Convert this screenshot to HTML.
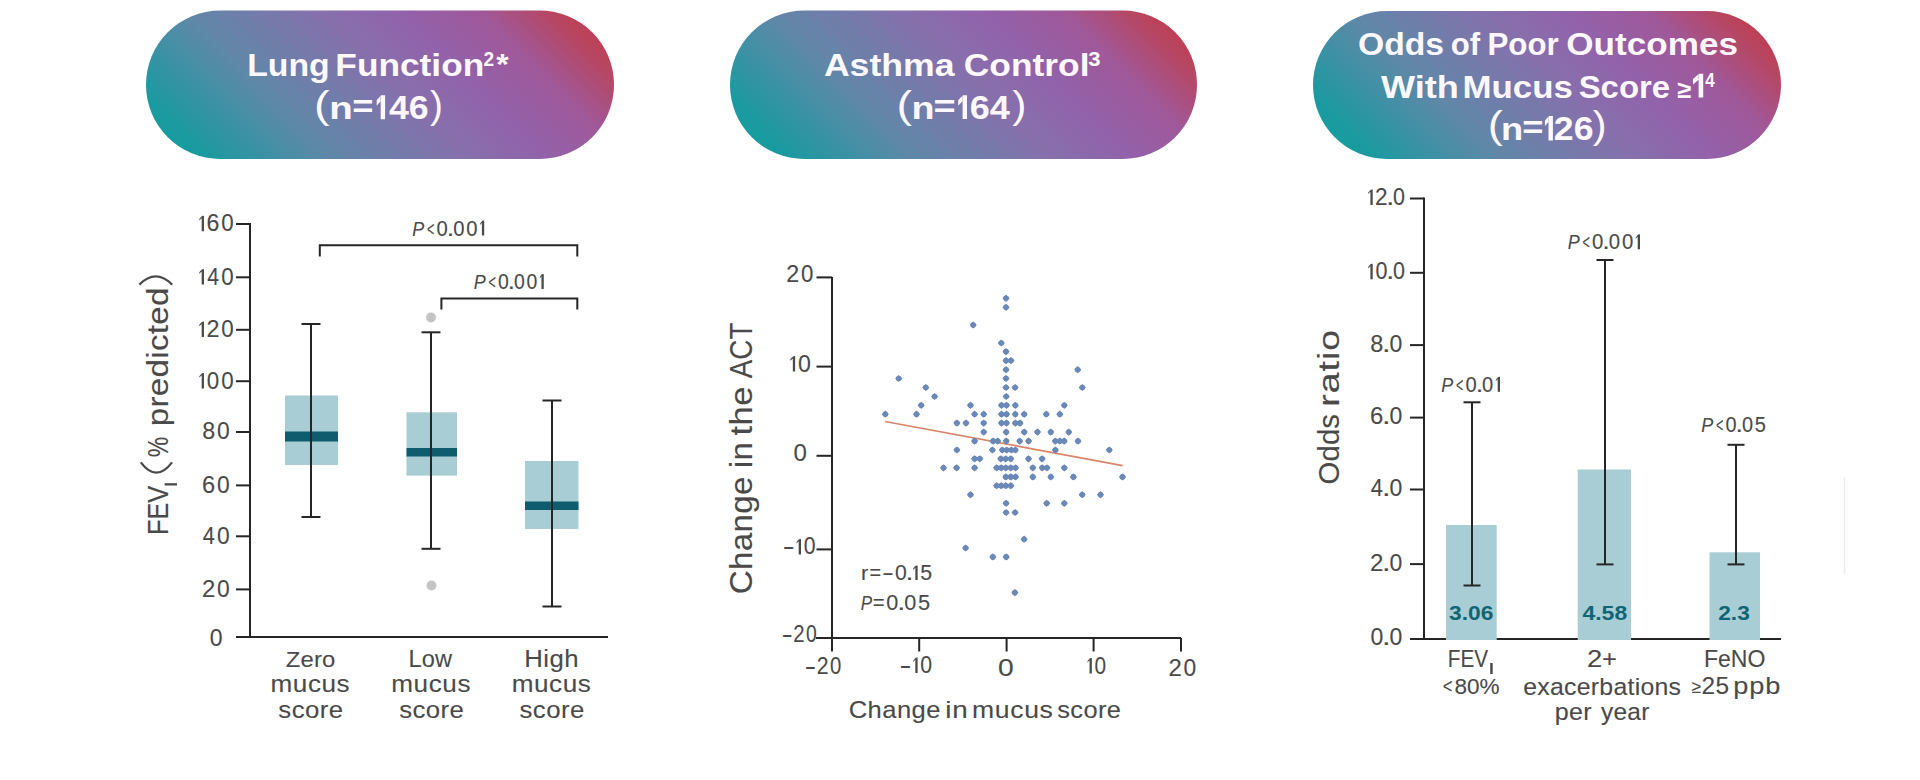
<!DOCTYPE html>
<html><head><meta charset="utf-8"><title>Mucus score outcomes</title>
<style>html,body{margin:0;padding:0;background:#fff;width:1920px;height:780px;overflow:hidden}
svg{display:block;font-family:"Liberation Sans", sans-serif}</style></head>
<body><svg width="1920" height="780" viewBox="0 0 1920 780">
<defs>
<linearGradient id="g1" gradientUnits="userSpaceOnUse" x1="225.9" y1="238.9" x2="534.1" y2="-69.4"><stop offset="0" stop-color="#0ea4a0"/><stop offset="0.1" stop-color="#1a9aa0"/><stop offset="0.3" stop-color="#5f88a8"/><stop offset="0.52" stop-color="#8670ac"/><stop offset="0.65" stop-color="#9262aa"/><stop offset="0.78" stop-color="#a0589a"/><stop offset="0.9" stop-color="#b8455e"/><stop offset="1" stop-color="#cc3346"/></linearGradient>
<linearGradient id="g2" gradientUnits="userSpaceOnUse" x1="809.6" y1="238.6" x2="1117.4" y2="-69.1"><stop offset="0" stop-color="#0ea4a0"/><stop offset="0.1" stop-color="#1a9aa0"/><stop offset="0.3" stop-color="#5f88a8"/><stop offset="0.52" stop-color="#8670ac"/><stop offset="0.65" stop-color="#9262aa"/><stop offset="0.78" stop-color="#a0589a"/><stop offset="0.9" stop-color="#b8455e"/><stop offset="1" stop-color="#cc3346"/></linearGradient>
<linearGradient id="g3" gradientUnits="userSpaceOnUse" x1="1393.0" y1="239.0" x2="1701.0" y2="-69.0"><stop offset="0" stop-color="#0ea4a0"/><stop offset="0.1" stop-color="#1a9aa0"/><stop offset="0.3" stop-color="#5f88a8"/><stop offset="0.52" stop-color="#8670ac"/><stop offset="0.65" stop-color="#9262aa"/><stop offset="0.78" stop-color="#a0589a"/><stop offset="0.9" stop-color="#b8455e"/><stop offset="1" stop-color="#cc3346"/></linearGradient>
</defs>
<rect x="146" y="10.5" width="468" height="148.5" rx="74.25" ry="74.25" fill="url(#g1)"/>
<rect x="730" y="10.5" width="467" height="148.5" rx="74.25" ry="74.25" fill="url(#g2)"/>
<rect x="1313" y="11" width="468" height="148" rx="74.0" ry="74.0" fill="url(#g3)"/>
<text x="247.24" y="75.8" font-size="32" font-weight="bold" fill="#fdf8fd" textLength="82.52" lengthAdjust="spacingAndGlyphs">Lung</text>
<text x="335.34" y="75.8" font-size="32" font-weight="bold" fill="#fdf8fd" textLength="148.95" lengthAdjust="spacingAndGlyphs">Function</text>
<text x="483.44" y="65.5" font-size="19.76" font-weight="bold" fill="#fdf8fd" textLength="10.63" lengthAdjust="spacingAndGlyphs">2</text>
<text x="496.31" y="74.09" font-size="30.37" font-weight="bold" fill="#fdf8fd" textLength="12.42" lengthAdjust="spacingAndGlyphs">*</text>
<text x="314.00" y="117.78" font-size="38.75" font-weight="normal" fill="#fdf8fd" textLength="15.57" lengthAdjust="spacingAndGlyphs">(</text>
<text x="329.36" y="119.3" font-size="32" font-weight="bold" fill="#fdf8fd" textLength="23.53" lengthAdjust="spacingAndGlyphs">n</text>
<text x="352.29" y="117" font-size="32" font-weight="bold" fill="#fdf8fd" textLength="21.19" lengthAdjust="spacingAndGlyphs">=</text>
<path d="M380.70 95.20 L385.10 95.20 L385.10 119.30 L380.70 119.30 Z M381.00 95.20 L376.70 100.15 L376.70 105.65 L381.00 100.70 Z" fill="#fdf8fd"/>
<text x="388.96" y="119.3" font-size="34" font-weight="bold" fill="#fdf8fd" textLength="39.73" lengthAdjust="spacingAndGlyphs">46</text>
<text x="430.07" y="117.78" font-size="38.75" font-weight="normal" fill="#fdf8fd" textLength="12.94" lengthAdjust="spacingAndGlyphs">)</text>
<text x="823.91" y="75.6" font-size="32" font-weight="bold" fill="#fdf8fd" textLength="130.56" lengthAdjust="spacingAndGlyphs">Asthma</text>
<text x="963.85" y="75.6" font-size="32" font-weight="bold" fill="#fdf8fd" textLength="125.65" lengthAdjust="spacingAndGlyphs">Control</text>
<text x="1088.19" y="65.77" font-size="20.16" font-weight="bold" fill="#fdf8fd" textLength="12.31" lengthAdjust="spacingAndGlyphs">3</text>
<text x="896.60" y="117.54" font-size="38.43" font-weight="normal" fill="#fdf8fd" textLength="15.58" lengthAdjust="spacingAndGlyphs">(</text>
<text x="911.62" y="118.9" font-size="32" font-weight="bold" fill="#fdf8fd" textLength="23.02" lengthAdjust="spacingAndGlyphs">n</text>
<text x="933.63" y="116.6" font-size="32" font-weight="bold" fill="#fdf8fd" textLength="22.13" lengthAdjust="spacingAndGlyphs">=</text>
<path d="M962.60 95.20 L967.00 95.20 L967.00 118.90 L962.60 118.90 Z M962.90 95.20 L958.20 100.15 L958.20 105.65 L962.90 100.70 Z" fill="#fdf8fd"/>
<text x="969.68" y="118.9" font-size="34" font-weight="bold" fill="#fdf8fd" textLength="40.11" lengthAdjust="spacingAndGlyphs">64</text>
<text x="1012.25" y="117.54" font-size="38.43" font-weight="normal" fill="#fdf8fd" textLength="14.19" lengthAdjust="spacingAndGlyphs">)</text>
<text x="1358.02" y="55" font-size="32" font-weight="bold" fill="#fdf8fd" textLength="86.06" lengthAdjust="spacingAndGlyphs">Odds</text>
<text x="1450.79" y="55" font-size="32" font-weight="bold" fill="#fdf8fd" textLength="29.35" lengthAdjust="spacingAndGlyphs">of</text>
<text x="1487.51" y="55" font-size="32" font-weight="bold" fill="#fdf8fd" textLength="71.27" lengthAdjust="spacingAndGlyphs">Poor</text>
<text x="1566.26" y="55" font-size="32" font-weight="bold" fill="#fdf8fd" textLength="171.68" lengthAdjust="spacingAndGlyphs">Outcomes</text>
<text x="1380.96" y="97.5" font-size="32" font-weight="bold" fill="#fdf8fd" textLength="77.87" lengthAdjust="spacingAndGlyphs">With</text>
<text x="1462.47" y="97.5" font-size="32" font-weight="bold" fill="#fdf8fd" textLength="110.36" lengthAdjust="spacingAndGlyphs">Mucus</text>
<text x="1578.65" y="97.5" font-size="32" font-weight="bold" fill="#fdf8fd" textLength="91.47" lengthAdjust="spacingAndGlyphs">Score</text>
<text x="1677.39" y="97.6" font-size="24.61" font-weight="bold" fill="#fdf8fd" textLength="14.02" lengthAdjust="spacingAndGlyphs">≥</text>
<path d="M1698.60 73.70 L1703.20 73.70 L1703.20 97.50 L1698.60 97.50 Z M1698.90 73.70 L1693.00 78.88 L1693.00 84.62 L1698.90 79.45 Z" fill="#fdf8fd"/>
<text x="1705.14" y="87.0" font-size="20.79" font-weight="bold" fill="#fdf8fd" textLength="9.45" lengthAdjust="spacingAndGlyphs">4</text>
<text x="1487.79" y="138.27" font-size="38.32" font-weight="normal" fill="#fdf8fd" textLength="15.07" lengthAdjust="spacingAndGlyphs">(</text>
<text x="1500.91" y="140.4" font-size="32" font-weight="bold" fill="#fdf8fd" textLength="22.14" lengthAdjust="spacingAndGlyphs">n</text>
<text x="1522.29" y="138.1" font-size="32" font-weight="bold" fill="#fdf8fd" textLength="21.19" lengthAdjust="spacingAndGlyphs">=</text>
<path d="M1548.50 115.90 L1552.90 115.90 L1552.90 140.40 L1548.50 140.40 Z M1548.80 115.90 L1544.90 120.85 L1544.90 126.35 L1548.80 121.40 Z" fill="#fdf8fd"/>
<text x="1553.86" y="140.4" font-size="34" font-weight="bold" fill="#fdf8fd" textLength="39.73" lengthAdjust="spacingAndGlyphs">26</text>
<text x="1592.76" y="138.27" font-size="38.32" font-weight="normal" fill="#fdf8fd" textLength="13.82" lengthAdjust="spacingAndGlyphs">)</text>
<line x1="250" y1="223" x2="250" y2="637" stroke="#262626" stroke-width="2"/>
<line x1="236" y1="637" x2="608" y2="637" stroke="#262626" stroke-width="2"/>
<line x1="236" y1="224" x2="250" y2="224" stroke="#262626" stroke-width="2"/>
<path d="M201.68 216.10 L203.98 215.80 L203.98 231.30 L201.68 231.30 Z M201.88 216.00 L199.30 219.00 L199.30 220.40 L201.68 218.10 Z" fill="#4a4a4a"/>
<text x="206.47" y="231.3" font-size="23" font-weight="normal" fill="#4a4a4a" stroke="#4a4a4a" stroke-width="0.1" textLength="12.89" lengthAdjust="spacingAndGlyphs">6</text>
<text x="221.13" y="231.3" font-size="23" font-weight="normal" fill="#4a4a4a" stroke="#4a4a4a" stroke-width="0.1" textLength="12.44" lengthAdjust="spacingAndGlyphs">0</text>
<line x1="236" y1="277.3" x2="250" y2="277.3" stroke="#262626" stroke-width="2"/>
<path d="M201.68 269.40 L203.98 269.10 L203.98 284.60 L201.68 284.60 Z M201.88 269.30 L199.30 272.30 L199.30 273.70 L201.68 271.40 Z" fill="#4a4a4a"/>
<text x="207.16" y="284.6" font-size="23" font-weight="normal" fill="#4a4a4a" stroke="#4a4a4a" stroke-width="0.1" textLength="11.80" lengthAdjust="spacingAndGlyphs">4</text>
<text x="221.13" y="284.6" font-size="23" font-weight="normal" fill="#4a4a4a" stroke="#4a4a4a" stroke-width="0.1" textLength="12.44" lengthAdjust="spacingAndGlyphs">0</text>
<line x1="236" y1="329.8" x2="250" y2="329.8" stroke="#262626" stroke-width="2"/>
<path d="M201.68 321.90 L203.98 321.60 L203.98 337.10 L201.68 337.10 Z M201.88 321.80 L199.30 324.80 L199.30 326.20 L201.68 323.90 Z" fill="#4a4a4a"/>
<text x="206.47" y="337.1" font-size="23" font-weight="normal" fill="#4a4a4a" stroke="#4a4a4a" stroke-width="0.1" textLength="13.05" lengthAdjust="spacingAndGlyphs">2</text>
<text x="221.13" y="337.1" font-size="23" font-weight="normal" fill="#4a4a4a" stroke="#4a4a4a" stroke-width="0.1" textLength="12.44" lengthAdjust="spacingAndGlyphs">0</text>
<line x1="236" y1="381.2" x2="250" y2="381.2" stroke="#262626" stroke-width="2"/>
<path d="M201.68 373.30 L203.98 373.00 L203.98 388.50 L201.68 388.50 Z M201.88 373.20 L199.30 376.20 L199.30 377.60 L201.68 375.30 Z" fill="#4a4a4a"/>
<text x="206.78" y="388.5" font-size="23" font-weight="normal" fill="#4a4a4a" stroke="#4a4a4a" stroke-width="0.1" textLength="12.44" lengthAdjust="spacingAndGlyphs">0</text>
<text x="221.13" y="388.5" font-size="23" font-weight="normal" fill="#4a4a4a" stroke="#4a4a4a" stroke-width="0.1" textLength="12.44" lengthAdjust="spacingAndGlyphs">0</text>
<line x1="236" y1="432" x2="250" y2="432" stroke="#262626" stroke-width="2"/>
<text x="202.19" y="439.3" font-size="23" font-weight="normal" fill="#4a4a4a" stroke="#4a4a4a" stroke-width="0.1" textLength="12.95" lengthAdjust="spacingAndGlyphs">8</text>
<text x="216.98" y="439.3" font-size="23" font-weight="normal" fill="#4a4a4a" stroke="#4a4a4a" stroke-width="0.1" textLength="12.71" lengthAdjust="spacingAndGlyphs">0</text>
<line x1="236" y1="485.4" x2="250" y2="485.4" stroke="#262626" stroke-width="2"/>
<text x="202.00" y="492.7" font-size="23" font-weight="normal" fill="#4a4a4a" stroke="#4a4a4a" stroke-width="0.1" textLength="13.17" lengthAdjust="spacingAndGlyphs">6</text>
<text x="216.98" y="492.7" font-size="23" font-weight="normal" fill="#4a4a4a" stroke="#4a4a4a" stroke-width="0.1" textLength="12.71" lengthAdjust="spacingAndGlyphs">0</text>
<line x1="236" y1="536.3" x2="250" y2="536.3" stroke="#262626" stroke-width="2"/>
<text x="202.70" y="543.5999999999999" font-size="23" font-weight="normal" fill="#4a4a4a" stroke="#4a4a4a" stroke-width="0.1" textLength="12.06" lengthAdjust="spacingAndGlyphs">4</text>
<text x="216.98" y="543.5999999999999" font-size="23" font-weight="normal" fill="#4a4a4a" stroke="#4a4a4a" stroke-width="0.1" textLength="12.71" lengthAdjust="spacingAndGlyphs">0</text>
<line x1="236" y1="589.4" x2="250" y2="589.4" stroke="#262626" stroke-width="2"/>
<text x="201.99" y="596.6999999999999" font-size="23" font-weight="normal" fill="#4a4a4a" stroke="#4a4a4a" stroke-width="0.1" textLength="13.34" lengthAdjust="spacingAndGlyphs">2</text>
<text x="216.98" y="596.6999999999999" font-size="23" font-weight="normal" fill="#4a4a4a" stroke="#4a4a4a" stroke-width="0.1" textLength="12.71" lengthAdjust="spacingAndGlyphs">0</text>
<text x="209.80" y="645.6" font-size="23" font-weight="normal" fill="#4a4a4a" stroke="#4a4a4a" stroke-width="0.1" textLength="12.80" lengthAdjust="spacingAndGlyphs">0</text>
<rect x="285" y="395.5" width="53" height="69.5" fill="#a9cdd4"/>
<rect x="285" y="431.5" width="53" height="10" fill="#0e5c6d"/>
<rect x="406.5" y="412.3" width="50.5" height="63.3" fill="#a9cdd4"/>
<rect x="406.5" y="448" width="50.5" height="8.5" fill="#0e5c6d"/>
<rect x="525" y="461" width="53.5" height="68" fill="#a9cdd4"/>
<rect x="525" y="501.5" width="53.5" height="8.5" fill="#0e5c6d"/>
<line x1="311" y1="324" x2="311" y2="517" stroke="#262626" stroke-width="2"/>
<line x1="301.5" y1="324" x2="320.5" y2="324" stroke="#262626" stroke-width="2"/>
<line x1="301.5" y1="517" x2="320.5" y2="517" stroke="#262626" stroke-width="2"/>
<line x1="431" y1="332.3" x2="431" y2="548.8" stroke="#262626" stroke-width="2"/>
<line x1="421.5" y1="332.3" x2="440.5" y2="332.3" stroke="#262626" stroke-width="2"/>
<line x1="421.5" y1="548.8" x2="440.5" y2="548.8" stroke="#262626" stroke-width="2"/>
<line x1="552" y1="400.5" x2="552" y2="606.5" stroke="#262626" stroke-width="2"/>
<line x1="542.5" y1="400.5" x2="561.5" y2="400.5" stroke="#262626" stroke-width="2"/>
<line x1="542.5" y1="606.5" x2="561.5" y2="606.5" stroke="#262626" stroke-width="2"/>
<circle cx="431" cy="317.5" r="5" fill="#c4c4c4"/>
<circle cx="431.5" cy="585.5" r="5" fill="#c4c4c4"/>
<path d="M319.8 256.5 V245.3 H577.3 V256.5" fill="none" stroke="#262626" stroke-width="2"/>
<path d="M441.4 309.5 V298.4 H577.3 V309.5" fill="none" stroke="#262626" stroke-width="2"/>
<text x="412.15" y="235.5" font-size="21" font-weight="normal" fill="#4a4a4a" font-style="italic" stroke="#4a4a4a" stroke-width="0.1" textLength="11.97" lengthAdjust="spacingAndGlyphs">P</text>
<text x="426.88" y="235.5" font-size="21" font-weight="normal" fill="#4a4a4a" stroke="#4a4a4a" stroke-width="0.1" textLength="7.33" lengthAdjust="spacingAndGlyphs">&lt;</text>
<text x="436.51" y="235.5" font-size="21.5" font-weight="normal" fill="#4a4a4a" stroke="#4a4a4a" stroke-width="0.1" textLength="11.26" lengthAdjust="spacingAndGlyphs">0</text>
<text x="446.71" y="235.5" font-size="21.5" font-weight="normal" fill="#4a4a4a" stroke="#4a4a4a" stroke-width="0.1" textLength="7.53" lengthAdjust="spacingAndGlyphs">.</text>
<text x="453.19" y="235.5" font-size="21.5" font-weight="normal" fill="#4a4a4a" stroke="#4a4a4a" stroke-width="0.1" textLength="11.26" lengthAdjust="spacingAndGlyphs">0</text>
<text x="466.18" y="235.5" font-size="21.5" font-weight="normal" fill="#4a4a4a" stroke="#4a4a4a" stroke-width="0.1" textLength="11.26" lengthAdjust="spacingAndGlyphs">0</text>
<path d="M481.90 220.80 L484.20 220.50 L484.20 235.50 L481.90 235.50 Z M482.10 220.70 L479.96 223.70 L479.96 225.10 L481.90 222.80 Z" fill="#4a4a4a"/>
<text x="473.65" y="289" font-size="21" font-weight="normal" fill="#4a4a4a" font-style="italic" stroke="#4a4a4a" stroke-width="0.1" textLength="11.97" lengthAdjust="spacingAndGlyphs">P</text>
<text x="488.38" y="289" font-size="21" font-weight="normal" fill="#4a4a4a" stroke="#4a4a4a" stroke-width="0.1" textLength="7.33" lengthAdjust="spacingAndGlyphs">&lt;</text>
<text x="498.04" y="289" font-size="21.5" font-weight="normal" fill="#4a4a4a" stroke="#4a4a4a" stroke-width="0.1" textLength="10.79" lengthAdjust="spacingAndGlyphs">0</text>
<text x="507.82" y="289" font-size="21.5" font-weight="normal" fill="#4a4a4a" stroke="#4a4a4a" stroke-width="0.1" textLength="7.22" lengthAdjust="spacingAndGlyphs">.</text>
<text x="514.03" y="289" font-size="21.5" font-weight="normal" fill="#4a4a4a" stroke="#4a4a4a" stroke-width="0.1" textLength="10.79" lengthAdjust="spacingAndGlyphs">0</text>
<text x="526.48" y="289" font-size="21.5" font-weight="normal" fill="#4a4a4a" stroke="#4a4a4a" stroke-width="0.1" textLength="10.79" lengthAdjust="spacingAndGlyphs">0</text>
<path d="M541.45 274.30 L543.75 274.00 L543.75 289.00 L541.45 289.00 Z M541.65 274.20 L539.69 277.20 L539.69 278.60 L541.45 276.30 Z" fill="#4a4a4a"/>
<text transform="scale(1.038675519383165,1)" x="275.20" y="667" font-size="23" font-weight="normal" fill="#4a4a4a" stroke="#4a4a4a" stroke-width="0.1" textLength="47.72" lengthAdjust="spacing">Zero</text>
<text transform="scale(1.1360118291936134,1)" x="238.13" y="692.3" font-size="23" font-weight="normal" fill="#4a4a4a" stroke="#4a4a4a" stroke-width="0.1" textLength="69.70" lengthAdjust="spacing">mucus</text>
<text transform="scale(1.121948112363571,1)" x="248.08" y="717.8" font-size="23" font-weight="normal" fill="#4a4a4a" stroke="#4a4a4a" stroke-width="0.1" textLength="57.73" lengthAdjust="spacing">score</text>
<text transform="scale(1.0245317074350975,1)" x="398.78" y="667" font-size="23" font-weight="normal" fill="#4a4a4a" stroke="#4a4a4a" stroke-width="0.1" textLength="42.43" lengthAdjust="spacing">Low</text>
<text transform="scale(1.1360118291936134,1)" x="344.46" y="692.3" font-size="23" font-weight="normal" fill="#4a4a4a" stroke="#4a4a4a" stroke-width="0.1" textLength="69.70" lengthAdjust="spacing">mucus</text>
<text transform="scale(1.121948112363571,1)" x="355.75" y="717.8" font-size="23" font-weight="normal" fill="#4a4a4a" stroke="#4a4a4a" stroke-width="0.1" textLength="57.73" lengthAdjust="spacing">score</text>
<text transform="scale(1.119804786944293,1)" x="468.24" y="667" font-size="23" font-weight="normal" fill="#4a4a4a" stroke="#4a4a4a" stroke-width="0.1" textLength="48.48" lengthAdjust="spacing">High</text>
<text transform="scale(1.1360118291936134,1)" x="450.45" y="692.3" font-size="23" font-weight="normal" fill="#4a4a4a" stroke="#4a4a4a" stroke-width="0.1" textLength="69.70" lengthAdjust="spacing">mucus</text>
<text transform="scale(1.1219481123635726,1)" x="463.06" y="717.8" font-size="23" font-weight="normal" fill="#4a4a4a" stroke="#4a4a4a" stroke-width="0.1" textLength="57.73" lengthAdjust="spacing">score</text>
<text transform="translate(167.8,533) rotate(-90)" x="-2.07" y="0" font-size="29" font-weight="normal" fill="#4a4a4a" stroke="#4a4a4a" stroke-width="0.1" textLength="49.19" lengthAdjust="spacingAndGlyphs">FEV</text>
<rect x="164.6" y="483.2" width="12.4" height="2.3" fill="#4a4a4a"/>
<path d="M140.8 462.3 Q156.4 483 172 462.3" fill="none" stroke="#4a4a4a" stroke-width="2.2"/>
<text transform="translate(167.8,456.5) rotate(-90)" x="-0.82" y="0" font-size="30" font-weight="normal" fill="#4a4a4a" stroke="#4a4a4a" stroke-width="0.1" textLength="20.44" lengthAdjust="spacingAndGlyphs">%</text>
<text transform="translate(167.8,424.2) rotate(-90) scale(1.100072703508557,1)" x="-1.93" y="0" font-size="30" font-weight="normal" fill="#4a4a4a" stroke="#4a4a4a" stroke-width="0.1" textLength="126.13" lengthAdjust="spacing">predicted</text>
<path d="M139.3 284.6 Q155.8 268.2 172.2 284.6" fill="none" stroke="#4a4a4a" stroke-width="2.2"/>
<line x1="832" y1="277" x2="832" y2="639" stroke="#262626" stroke-width="2"/>
<line x1="816" y1="638" x2="1181" y2="638" stroke="#262626" stroke-width="2"/>
<line x1="816.5" y1="277.4" x2="832" y2="277.4" stroke="#262626" stroke-width="2"/>
<text x="786.33" y="282.4" font-size="23" font-weight="normal" fill="#4a4a4a" stroke="#4a4a4a" stroke-width="0.1" textLength="12.97" lengthAdjust="spacingAndGlyphs">2</text>
<text x="800.90" y="282.4" font-size="23" font-weight="normal" fill="#4a4a4a" stroke="#4a4a4a" stroke-width="0.1" textLength="12.37" lengthAdjust="spacingAndGlyphs">0</text>
<line x1="816.5" y1="366.6" x2="832" y2="366.6" stroke="#262626" stroke-width="2"/>
<path d="M792.85 356.40 L795.15 356.10 L795.15 371.60 L792.85 371.60 Z M793.05 356.30 L790.30 359.30 L790.30 360.70 L792.85 358.40 Z" fill="#4a4a4a"/>
<text x="798.03" y="371.6" font-size="23" font-weight="normal" fill="#4a4a4a" stroke="#4a4a4a" stroke-width="0.1" textLength="12.87" lengthAdjust="spacingAndGlyphs">0</text>
<line x1="816.5" y1="455.8" x2="832" y2="455.8" stroke="#262626" stroke-width="2"/>
<text x="793.46" y="460.8" font-size="23" font-weight="normal" fill="#4a4a4a" stroke="#4a4a4a" stroke-width="0.1" textLength="13.38" lengthAdjust="spacingAndGlyphs">0</text>
<line x1="816.5" y1="549.4" x2="832" y2="549.4" stroke="#262626" stroke-width="2"/>
<text x="782.82" y="554.4" font-size="23" font-weight="normal" fill="#4a4a4a" stroke="#4a4a4a" stroke-width="0.1" textLength="11.84" lengthAdjust="spacingAndGlyphs">-</text>
<path d="M798.70 539.20 L801.00 538.90 L801.00 554.40 L798.70 554.40 Z M798.90 539.10 L796.56 542.10 L796.56 543.50 L798.70 541.20 Z" fill="#4a4a4a"/>
<text x="803.64" y="554.4" font-size="23" font-weight="normal" fill="#4a4a4a" stroke="#4a4a4a" stroke-width="0.1" textLength="11.79" lengthAdjust="spacingAndGlyphs">0</text>
<text x="781.76" y="642" font-size="23" font-weight="normal" fill="#4a4a4a" stroke="#4a4a4a" stroke-width="0.1" textLength="10.82" lengthAdjust="spacingAndGlyphs">-</text>
<text x="793.29" y="642" font-size="23" font-weight="normal" fill="#4a4a4a" stroke="#4a4a4a" stroke-width="0.1" textLength="11.30" lengthAdjust="spacingAndGlyphs">2</text>
<text x="805.99" y="642" font-size="23" font-weight="normal" fill="#4a4a4a" stroke="#4a4a4a" stroke-width="0.1" textLength="10.77" lengthAdjust="spacingAndGlyphs">0</text>
<line x1="832" y1="638" x2="832" y2="651.5" stroke="#262626" stroke-width="2"/>
<text x="804.74" y="674" font-size="23" font-weight="normal" fill="#4a4a4a" stroke="#4a4a4a" stroke-width="0.1" textLength="11.34" lengthAdjust="spacingAndGlyphs">-</text>
<text x="816.81" y="674" font-size="23" font-weight="normal" fill="#4a4a4a" stroke="#4a4a4a" stroke-width="0.1" textLength="11.84" lengthAdjust="spacingAndGlyphs">2</text>
<text x="830.11" y="674" font-size="23" font-weight="normal" fill="#4a4a4a" stroke="#4a4a4a" stroke-width="0.1" textLength="11.28" lengthAdjust="spacingAndGlyphs">0</text>
<line x1="919.2" y1="638" x2="919.2" y2="651.5" stroke="#262626" stroke-width="2"/>
<text x="899.42" y="673" font-size="23" font-weight="normal" fill="#4a4a4a" stroke="#4a4a4a" stroke-width="0.1" textLength="11.86" lengthAdjust="spacingAndGlyphs">-</text>
<path d="M915.32 657.80 L917.62 657.50 L917.62 673.00 L915.32 673.00 Z M915.52 657.70 L913.18 660.70 L913.18 662.10 L915.32 659.80 Z" fill="#4a4a4a"/>
<text x="920.27" y="673" font-size="23" font-weight="normal" fill="#4a4a4a" stroke="#4a4a4a" stroke-width="0.1" textLength="11.81" lengthAdjust="spacingAndGlyphs">0</text>
<line x1="1006.6" y1="638" x2="1006.6" y2="651.5" stroke="#262626" stroke-width="2"/>
<text x="997.90" y="676" font-size="23" font-weight="normal" fill="#4a4a4a" stroke="#4a4a4a" stroke-width="0.1" textLength="15.71" lengthAdjust="spacingAndGlyphs">0</text>
<line x1="1093.6" y1="638" x2="1093.6" y2="651.5" stroke="#262626" stroke-width="2"/>
<path d="M1089.55 658.30 L1091.85 658.00 L1091.85 673.50 L1089.55 673.50 Z M1089.75 658.20 L1087.50 661.20 L1087.50 662.60 L1089.55 660.30 Z" fill="#4a4a4a"/>
<text x="1094.45" y="673.5" font-size="23" font-weight="normal" fill="#4a4a4a" stroke="#4a4a4a" stroke-width="0.1" textLength="11.56" lengthAdjust="spacingAndGlyphs">0</text>
<line x1="1181" y1="638" x2="1181" y2="651.5" stroke="#262626" stroke-width="2"/>
<text x="1168.59" y="676" font-size="23" font-weight="normal" fill="#4a4a4a" stroke="#4a4a4a" stroke-width="0.1" textLength="13.34" lengthAdjust="spacingAndGlyphs">2</text>
<text x="1183.58" y="676" font-size="23" font-weight="normal" fill="#4a4a4a" stroke="#4a4a4a" stroke-width="0.1" textLength="12.71" lengthAdjust="spacingAndGlyphs">0</text>
<text transform="scale(1.1125074602690055,1)" x="762.87" y="718.3" font-size="23" font-weight="normal" fill="#4a4a4a" stroke="#4a4a4a" stroke-width="0.1" textLength="82.55" lengthAdjust="spacing">Change</text>
<text transform="scale(1.2114908708787575,1)" x="780.31" y="718.3" font-size="23" font-weight="normal" fill="#4a4a4a" stroke="#4a4a4a" stroke-width="0.1" textLength="18.55" lengthAdjust="spacing">in</text>
<text transform="scale(1.1562003196272024,1)" x="840.67" y="718.3" font-size="23" font-weight="normal" fill="#4a4a4a" stroke="#4a4a4a" stroke-width="0.1" textLength="69.95" lengthAdjust="spacing">mucus</text>
<text transform="scale(1.1058250134192158,1)" x="956.11" y="718.3" font-size="23" font-weight="normal" fill="#4a4a4a" stroke="#4a4a4a" stroke-width="0.1" textLength="57.55" lengthAdjust="spacing">score</text>
<text transform="translate(752,592.5) rotate(-90) scale(1.0671026905601597,1)" x="-1.57" y="0" font-size="31" font-weight="normal" fill="#4a4a4a" stroke="#4a4a4a" stroke-width="0.1" textLength="110.25" lengthAdjust="spacing">Change</text>
<text transform="translate(752,466) rotate(-90) scale(1.070215378618069,1)" x="-2.07" y="0" font-size="31" font-weight="normal" fill="#4a4a4a" stroke="#4a4a4a" stroke-width="0.1" textLength="24.46" lengthAdjust="spacing">in</text>
<text transform="translate(752,435) rotate(-90) scale(1.1115691032849955,1)" x="-0.47" y="0" font-size="31" font-weight="normal" fill="#4a4a4a" stroke="#4a4a4a" stroke-width="0.1" textLength="44.13" lengthAdjust="spacing">the</text>
<text transform="translate(752,378.2) rotate(-90) scale(0.8982814306790542,1)" x="-0.06" y="0" font-size="31" font-weight="normal" fill="#4a4a4a" stroke="#4a4a4a" stroke-width="0.1" textLength="62.00" lengthAdjust="spacing">ACT</text>
<text x="861.04" y="580" font-size="21" font-weight="normal" fill="#4a4a4a" stroke="#4a4a4a" stroke-width="0.1" textLength="7.33" lengthAdjust="spacingAndGlyphs">r</text>
<text x="869.53" y="580" font-size="22" font-weight="normal" fill="#4a4a4a" stroke="#4a4a4a" stroke-width="0.1" textLength="11.59" lengthAdjust="spacingAndGlyphs">=</text>
<text x="882.03" y="580" font-size="22" font-weight="normal" fill="#4a4a4a" stroke="#4a4a4a" stroke-width="0.1" textLength="11.84" lengthAdjust="spacingAndGlyphs">-</text>
<text x="894.94" y="580" font-size="22" font-weight="normal" fill="#4a4a4a" stroke="#4a4a4a" stroke-width="0.1" textLength="11.78" lengthAdjust="spacingAndGlyphs">0</text>
<text x="905.61" y="580" font-size="22" font-weight="normal" fill="#4a4a4a" stroke="#4a4a4a" stroke-width="0.1" textLength="7.88" lengthAdjust="spacingAndGlyphs">.</text>
<path d="M915.35 565.70 L917.65 565.40 L917.65 580.00 L915.35 580.00 Z M915.55 565.60 L913.22 568.60 L913.22 570.00 L915.35 567.70 Z" fill="#4a4a4a"/>
<text x="920.27" y="580" font-size="22" font-weight="normal" fill="#4a4a4a" stroke="#4a4a4a" stroke-width="0.1" textLength="11.88" lengthAdjust="spacingAndGlyphs">5</text>
<text x="860.73" y="610" font-size="20" font-weight="normal" fill="#4a4a4a" font-style="italic" stroke="#4a4a4a" stroke-width="0.1" textLength="11.38" lengthAdjust="spacingAndGlyphs">P</text>
<text x="872.76" y="610" font-size="22" font-weight="normal" fill="#4a4a4a" stroke="#4a4a4a" stroke-width="0.1" textLength="11.84" lengthAdjust="spacingAndGlyphs">=</text>
<text x="886.30" y="610" font-size="22" font-weight="normal" fill="#4a4a4a" stroke="#4a4a4a" stroke-width="0.1" textLength="12.03" lengthAdjust="spacingAndGlyphs">0</text>
<text x="897.21" y="610" font-size="22" font-weight="normal" fill="#4a4a4a" stroke="#4a4a4a" stroke-width="0.1" textLength="8.05" lengthAdjust="spacingAndGlyphs">.</text>
<text x="904.13" y="610" font-size="22" font-weight="normal" fill="#4a4a4a" stroke="#4a4a4a" stroke-width="0.1" textLength="12.03" lengthAdjust="spacingAndGlyphs">0</text>
<text x="917.99" y="610" font-size="22" font-weight="normal" fill="#4a4a4a" stroke="#4a4a4a" stroke-width="0.1" textLength="12.13" lengthAdjust="spacingAndGlyphs">5</text>
<line x1="885" y1="421.5" x2="1122.7" y2="465.6" stroke="#d9856a" stroke-width="1.7"/>
<path d="M1002.4 298.3l3.6 -3.6l3.6 3.6l-3.6 3.6zM1002.4 307.3l3.6 -3.6l3.6 3.6l-3.6 3.6zM969.6 325.0l3.6 -3.6l3.6 3.6l-3.6 3.6zM997.7 343.0l3.6 -3.6l3.6 3.6l-3.6 3.6zM1002.4 351.6l3.6 -3.6l3.6 3.6l-3.6 3.6zM1002.4 360.6l3.6 -3.6l3.6 3.6l-3.6 3.6zM1007.4 360.6l3.6 -3.6l3.6 3.6l-3.6 3.6zM1002.4 369.7l3.6 -3.6l3.6 3.6l-3.6 3.6zM1074.1 369.7l3.6 -3.6l3.6 3.6l-3.6 3.6zM895.1 378.5l3.6 -3.6l3.6 3.6l-3.6 3.6zM1002.4 378.5l3.6 -3.6l3.6 3.6l-3.6 3.6zM922.2 387.5l3.6 -3.6l3.6 3.6l-3.6 3.6zM1002.4 387.5l3.6 -3.6l3.6 3.6l-3.6 3.6zM1011.5 387.5l3.6 -3.6l3.6 3.6l-3.6 3.6zM1078.7 387.5l3.6 -3.6l3.6 3.6l-3.6 3.6zM931.0 396.5l3.6 -3.6l3.6 3.6l-3.6 3.6zM1002.6 396.5l3.6 -3.6l3.6 3.6l-3.6 3.6zM917.6 405.3l3.6 -3.6l3.6 3.6l-3.6 3.6zM966.9 405.3l3.6 -3.6l3.6 3.6l-3.6 3.6zM997.9 405.3l3.6 -3.6l3.6 3.6l-3.6 3.6zM1002.9 405.3l3.6 -3.6l3.6 3.6l-3.6 3.6zM1011.7 405.3l3.6 -3.6l3.6 3.6l-3.6 3.6zM1060.7 405.3l3.6 -3.6l3.6 3.6l-3.6 3.6zM881.7 414.2l3.6 -3.6l3.6 3.6l-3.6 3.6zM912.9 414.2l3.6 -3.6l3.6 3.6l-3.6 3.6zM971.0 414.2l3.6 -3.6l3.6 3.6l-3.6 3.6zM980.1 414.2l3.6 -3.6l3.6 3.6l-3.6 3.6zM997.9 414.2l3.6 -3.6l3.6 3.6l-3.6 3.6zM1002.9 414.2l3.6 -3.6l3.6 3.6l-3.6 3.6zM1011.7 414.2l3.6 -3.6l3.6 3.6l-3.6 3.6zM1020.6 414.2l3.6 -3.6l3.6 3.6l-3.6 3.6zM1042.7 414.2l3.6 -3.6l3.6 3.6l-3.6 3.6zM1056.2 414.2l3.6 -3.6l3.6 3.6l-3.6 3.6zM953.3 423.1l3.6 -3.6l3.6 3.6l-3.6 3.6zM962.4 423.1l3.6 -3.6l3.6 3.6l-3.6 3.6zM980.1 423.1l3.6 -3.6l3.6 3.6l-3.6 3.6zM997.9 423.1l3.6 -3.6l3.6 3.6l-3.6 3.6zM1002.9 423.1l3.6 -3.6l3.6 3.6l-3.6 3.6zM1011.7 423.1l3.6 -3.6l3.6 3.6l-3.6 3.6zM1016.4 423.1l3.6 -3.6l3.6 3.6l-3.6 3.6zM980.1 432.1l3.6 -3.6l3.6 3.6l-3.6 3.6zM1002.6 432.1l3.6 -3.6l3.6 3.6l-3.6 3.6zM1020.6 432.1l3.6 -3.6l3.6 3.6l-3.6 3.6zM1033.9 432.1l3.6 -3.6l3.6 3.6l-3.6 3.6zM1047.2 432.1l3.6 -3.6l3.6 3.6l-3.6 3.6zM1065.2 432.1l3.6 -3.6l3.6 3.6l-3.6 3.6zM971.0 441.1l3.6 -3.6l3.6 3.6l-3.6 3.6zM989.5 441.1l3.6 -3.6l3.6 3.6l-3.6 3.6zM994.1 441.1l3.6 -3.6l3.6 3.6l-3.6 3.6zM1002.6 441.1l3.6 -3.6l3.6 3.6l-3.6 3.6zM1016.1 441.1l3.6 -3.6l3.6 3.6l-3.6 3.6zM1025.0 441.1l3.6 -3.6l3.6 3.6l-3.6 3.6zM1051.7 441.1l3.6 -3.6l3.6 3.6l-3.6 3.6zM1056.2 441.1l3.6 -3.6l3.6 3.6l-3.6 3.6zM1060.6 441.1l3.6 -3.6l3.6 3.6l-3.6 3.6zM1074.4 441.1l3.6 -3.6l3.6 3.6l-3.6 3.6zM953.3 450.0l3.6 -3.6l3.6 3.6l-3.6 3.6zM988.8 450.0l3.6 -3.6l3.6 3.6l-3.6 3.6zM998.7 450.0l3.6 -3.6l3.6 3.6l-3.6 3.6zM1003.1 450.0l3.6 -3.6l3.6 3.6l-3.6 3.6zM1007.7 450.0l3.6 -3.6l3.6 3.6l-3.6 3.6zM1011.8 450.0l3.6 -3.6l3.6 3.6l-3.6 3.6zM1051.8 450.0l3.6 -3.6l3.6 3.6l-3.6 3.6zM1105.7 450.0l3.6 -3.6l3.6 3.6l-3.6 3.6zM971.0 458.8l3.6 -3.6l3.6 3.6l-3.6 3.6zM976.2 458.8l3.6 -3.6l3.6 3.6l-3.6 3.6zM997.2 458.8l3.6 -3.6l3.6 3.6l-3.6 3.6zM1002.0 458.8l3.6 -3.6l3.6 3.6l-3.6 3.6zM1007.2 458.8l3.6 -3.6l3.6 3.6l-3.6 3.6zM1024.9 458.8l3.6 -3.6l3.6 3.6l-3.6 3.6zM1038.5 458.8l3.6 -3.6l3.6 3.6l-3.6 3.6zM939.9 467.8l3.6 -3.6l3.6 3.6l-3.6 3.6zM953.0 467.8l3.6 -3.6l3.6 3.6l-3.6 3.6zM971.0 467.8l3.6 -3.6l3.6 3.6l-3.6 3.6zM993.0 467.8l3.6 -3.6l3.6 3.6l-3.6 3.6zM997.6 467.8l3.6 -3.6l3.6 3.6l-3.6 3.6zM1002.2 467.8l3.6 -3.6l3.6 3.6l-3.6 3.6zM1007.2 467.8l3.6 -3.6l3.6 3.6l-3.6 3.6zM1012.0 467.8l3.6 -3.6l3.6 3.6l-3.6 3.6zM1029.2 467.8l3.6 -3.6l3.6 3.6l-3.6 3.6zM1038.6 467.8l3.6 -3.6l3.6 3.6l-3.6 3.6zM1043.4 467.8l3.6 -3.6l3.6 3.6l-3.6 3.6zM1060.7 467.8l3.6 -3.6l3.6 3.6l-3.6 3.6zM1002.2 476.9l3.6 -3.6l3.6 3.6l-3.6 3.6zM1007.2 476.9l3.6 -3.6l3.6 3.6l-3.6 3.6zM1012.0 476.9l3.6 -3.6l3.6 3.6l-3.6 3.6zM1029.2 476.9l3.6 -3.6l3.6 3.6l-3.6 3.6zM1047.2 476.9l3.6 -3.6l3.6 3.6l-3.6 3.6zM1069.8 476.9l3.6 -3.6l3.6 3.6l-3.6 3.6zM1118.9 476.9l3.6 -3.6l3.6 3.6l-3.6 3.6zM993.0 485.7l3.6 -3.6l3.6 3.6l-3.6 3.6zM997.6 485.7l3.6 -3.6l3.6 3.6l-3.6 3.6zM1002.2 485.7l3.6 -3.6l3.6 3.6l-3.6 3.6zM1007.2 485.7l3.6 -3.6l3.6 3.6l-3.6 3.6zM966.9 494.7l3.6 -3.6l3.6 3.6l-3.6 3.6zM1078.6 494.7l3.6 -3.6l3.6 3.6l-3.6 3.6zM1096.9 494.7l3.6 -3.6l3.6 3.6l-3.6 3.6zM1002.5 503.3l3.6 -3.6l3.6 3.6l-3.6 3.6zM1043.1 503.3l3.6 -3.6l3.6 3.6l-3.6 3.6zM1060.7 503.3l3.6 -3.6l3.6 3.6l-3.6 3.6zM1002.5 512.5l3.6 -3.6l3.6 3.6l-3.6 3.6zM1011.5 512.5l3.6 -3.6l3.6 3.6l-3.6 3.6zM1020.5 539.2l3.6 -3.6l3.6 3.6l-3.6 3.6zM962.0 548.0l3.6 -3.6l3.6 3.6l-3.6 3.6zM989.2 556.9l3.6 -3.6l3.6 3.6l-3.6 3.6zM1002.6 556.9l3.6 -3.6l3.6 3.6l-3.6 3.6zM1011.3 592.6l3.6 -3.6l3.6 3.6l-3.6 3.6z" fill="#6a88b8"/>
<path d="M1003.2 298.3a2.8 2.8 0 1 0 5.6 0a2.8 2.8 0 1 0 -5.6 0zM1003.2 307.3a2.8 2.8 0 1 0 5.6 0a2.8 2.8 0 1 0 -5.6 0zM970.4 325.0a2.8 2.8 0 1 0 5.6 0a2.8 2.8 0 1 0 -5.6 0zM998.5 343.0a2.8 2.8 0 1 0 5.6 0a2.8 2.8 0 1 0 -5.6 0zM1003.2 351.6a2.8 2.8 0 1 0 5.6 0a2.8 2.8 0 1 0 -5.6 0zM1003.2 360.6a2.8 2.8 0 1 0 5.6 0a2.8 2.8 0 1 0 -5.6 0zM1008.2 360.6a2.8 2.8 0 1 0 5.6 0a2.8 2.8 0 1 0 -5.6 0zM1003.2 369.7a2.8 2.8 0 1 0 5.6 0a2.8 2.8 0 1 0 -5.6 0zM1074.9 369.7a2.8 2.8 0 1 0 5.6 0a2.8 2.8 0 1 0 -5.6 0zM895.9 378.5a2.8 2.8 0 1 0 5.6 0a2.8 2.8 0 1 0 -5.6 0zM1003.2 378.5a2.8 2.8 0 1 0 5.6 0a2.8 2.8 0 1 0 -5.6 0zM923.0 387.5a2.8 2.8 0 1 0 5.6 0a2.8 2.8 0 1 0 -5.6 0zM1003.2 387.5a2.8 2.8 0 1 0 5.6 0a2.8 2.8 0 1 0 -5.6 0zM1012.3 387.5a2.8 2.8 0 1 0 5.6 0a2.8 2.8 0 1 0 -5.6 0zM1079.5 387.5a2.8 2.8 0 1 0 5.6 0a2.8 2.8 0 1 0 -5.6 0zM931.8 396.5a2.8 2.8 0 1 0 5.6 0a2.8 2.8 0 1 0 -5.6 0zM1003.4 396.5a2.8 2.8 0 1 0 5.6 0a2.8 2.8 0 1 0 -5.6 0zM918.4 405.3a2.8 2.8 0 1 0 5.6 0a2.8 2.8 0 1 0 -5.6 0zM967.7 405.3a2.8 2.8 0 1 0 5.6 0a2.8 2.8 0 1 0 -5.6 0zM998.7 405.3a2.8 2.8 0 1 0 5.6 0a2.8 2.8 0 1 0 -5.6 0zM1003.7 405.3a2.8 2.8 0 1 0 5.6 0a2.8 2.8 0 1 0 -5.6 0zM1012.5 405.3a2.8 2.8 0 1 0 5.6 0a2.8 2.8 0 1 0 -5.6 0zM1061.5 405.3a2.8 2.8 0 1 0 5.6 0a2.8 2.8 0 1 0 -5.6 0zM882.5 414.2a2.8 2.8 0 1 0 5.6 0a2.8 2.8 0 1 0 -5.6 0zM913.7 414.2a2.8 2.8 0 1 0 5.6 0a2.8 2.8 0 1 0 -5.6 0zM971.8 414.2a2.8 2.8 0 1 0 5.6 0a2.8 2.8 0 1 0 -5.6 0zM980.9 414.2a2.8 2.8 0 1 0 5.6 0a2.8 2.8 0 1 0 -5.6 0zM998.7 414.2a2.8 2.8 0 1 0 5.6 0a2.8 2.8 0 1 0 -5.6 0zM1003.7 414.2a2.8 2.8 0 1 0 5.6 0a2.8 2.8 0 1 0 -5.6 0zM1012.5 414.2a2.8 2.8 0 1 0 5.6 0a2.8 2.8 0 1 0 -5.6 0zM1021.4 414.2a2.8 2.8 0 1 0 5.6 0a2.8 2.8 0 1 0 -5.6 0zM1043.5 414.2a2.8 2.8 0 1 0 5.6 0a2.8 2.8 0 1 0 -5.6 0zM1057.0 414.2a2.8 2.8 0 1 0 5.6 0a2.8 2.8 0 1 0 -5.6 0zM954.1 423.1a2.8 2.8 0 1 0 5.6 0a2.8 2.8 0 1 0 -5.6 0zM963.2 423.1a2.8 2.8 0 1 0 5.6 0a2.8 2.8 0 1 0 -5.6 0zM980.9 423.1a2.8 2.8 0 1 0 5.6 0a2.8 2.8 0 1 0 -5.6 0zM998.7 423.1a2.8 2.8 0 1 0 5.6 0a2.8 2.8 0 1 0 -5.6 0zM1003.7 423.1a2.8 2.8 0 1 0 5.6 0a2.8 2.8 0 1 0 -5.6 0zM1012.5 423.1a2.8 2.8 0 1 0 5.6 0a2.8 2.8 0 1 0 -5.6 0zM1017.2 423.1a2.8 2.8 0 1 0 5.6 0a2.8 2.8 0 1 0 -5.6 0zM980.9 432.1a2.8 2.8 0 1 0 5.6 0a2.8 2.8 0 1 0 -5.6 0zM1003.4 432.1a2.8 2.8 0 1 0 5.6 0a2.8 2.8 0 1 0 -5.6 0zM1021.4 432.1a2.8 2.8 0 1 0 5.6 0a2.8 2.8 0 1 0 -5.6 0zM1034.7 432.1a2.8 2.8 0 1 0 5.6 0a2.8 2.8 0 1 0 -5.6 0zM1048.0 432.1a2.8 2.8 0 1 0 5.6 0a2.8 2.8 0 1 0 -5.6 0zM1066.0 432.1a2.8 2.8 0 1 0 5.6 0a2.8 2.8 0 1 0 -5.6 0zM971.8 441.1a2.8 2.8 0 1 0 5.6 0a2.8 2.8 0 1 0 -5.6 0zM990.3 441.1a2.8 2.8 0 1 0 5.6 0a2.8 2.8 0 1 0 -5.6 0zM994.9 441.1a2.8 2.8 0 1 0 5.6 0a2.8 2.8 0 1 0 -5.6 0zM1003.4 441.1a2.8 2.8 0 1 0 5.6 0a2.8 2.8 0 1 0 -5.6 0zM1016.9 441.1a2.8 2.8 0 1 0 5.6 0a2.8 2.8 0 1 0 -5.6 0zM1025.8 441.1a2.8 2.8 0 1 0 5.6 0a2.8 2.8 0 1 0 -5.6 0zM1052.5 441.1a2.8 2.8 0 1 0 5.6 0a2.8 2.8 0 1 0 -5.6 0zM1057.0 441.1a2.8 2.8 0 1 0 5.6 0a2.8 2.8 0 1 0 -5.6 0zM1061.4 441.1a2.8 2.8 0 1 0 5.6 0a2.8 2.8 0 1 0 -5.6 0zM1075.2 441.1a2.8 2.8 0 1 0 5.6 0a2.8 2.8 0 1 0 -5.6 0zM954.1 450.0a2.8 2.8 0 1 0 5.6 0a2.8 2.8 0 1 0 -5.6 0zM989.6 450.0a2.8 2.8 0 1 0 5.6 0a2.8 2.8 0 1 0 -5.6 0zM999.5 450.0a2.8 2.8 0 1 0 5.6 0a2.8 2.8 0 1 0 -5.6 0zM1003.9 450.0a2.8 2.8 0 1 0 5.6 0a2.8 2.8 0 1 0 -5.6 0zM1008.5 450.0a2.8 2.8 0 1 0 5.6 0a2.8 2.8 0 1 0 -5.6 0zM1012.6 450.0a2.8 2.8 0 1 0 5.6 0a2.8 2.8 0 1 0 -5.6 0zM1052.6 450.0a2.8 2.8 0 1 0 5.6 0a2.8 2.8 0 1 0 -5.6 0zM1106.5 450.0a2.8 2.8 0 1 0 5.6 0a2.8 2.8 0 1 0 -5.6 0zM971.8 458.8a2.8 2.8 0 1 0 5.6 0a2.8 2.8 0 1 0 -5.6 0zM977.0 458.8a2.8 2.8 0 1 0 5.6 0a2.8 2.8 0 1 0 -5.6 0zM998.0 458.8a2.8 2.8 0 1 0 5.6 0a2.8 2.8 0 1 0 -5.6 0zM1002.8 458.8a2.8 2.8 0 1 0 5.6 0a2.8 2.8 0 1 0 -5.6 0zM1008.0 458.8a2.8 2.8 0 1 0 5.6 0a2.8 2.8 0 1 0 -5.6 0zM1025.7 458.8a2.8 2.8 0 1 0 5.6 0a2.8 2.8 0 1 0 -5.6 0zM1039.3 458.8a2.8 2.8 0 1 0 5.6 0a2.8 2.8 0 1 0 -5.6 0zM940.7 467.8a2.8 2.8 0 1 0 5.6 0a2.8 2.8 0 1 0 -5.6 0zM953.8 467.8a2.8 2.8 0 1 0 5.6 0a2.8 2.8 0 1 0 -5.6 0zM971.8 467.8a2.8 2.8 0 1 0 5.6 0a2.8 2.8 0 1 0 -5.6 0zM993.8 467.8a2.8 2.8 0 1 0 5.6 0a2.8 2.8 0 1 0 -5.6 0zM998.4 467.8a2.8 2.8 0 1 0 5.6 0a2.8 2.8 0 1 0 -5.6 0zM1003.0 467.8a2.8 2.8 0 1 0 5.6 0a2.8 2.8 0 1 0 -5.6 0zM1008.0 467.8a2.8 2.8 0 1 0 5.6 0a2.8 2.8 0 1 0 -5.6 0zM1012.8 467.8a2.8 2.8 0 1 0 5.6 0a2.8 2.8 0 1 0 -5.6 0zM1030.0 467.8a2.8 2.8 0 1 0 5.6 0a2.8 2.8 0 1 0 -5.6 0zM1039.4 467.8a2.8 2.8 0 1 0 5.6 0a2.8 2.8 0 1 0 -5.6 0zM1044.2 467.8a2.8 2.8 0 1 0 5.6 0a2.8 2.8 0 1 0 -5.6 0zM1061.5 467.8a2.8 2.8 0 1 0 5.6 0a2.8 2.8 0 1 0 -5.6 0zM1003.0 476.9a2.8 2.8 0 1 0 5.6 0a2.8 2.8 0 1 0 -5.6 0zM1008.0 476.9a2.8 2.8 0 1 0 5.6 0a2.8 2.8 0 1 0 -5.6 0zM1012.8 476.9a2.8 2.8 0 1 0 5.6 0a2.8 2.8 0 1 0 -5.6 0zM1030.0 476.9a2.8 2.8 0 1 0 5.6 0a2.8 2.8 0 1 0 -5.6 0zM1048.0 476.9a2.8 2.8 0 1 0 5.6 0a2.8 2.8 0 1 0 -5.6 0zM1070.6 476.9a2.8 2.8 0 1 0 5.6 0a2.8 2.8 0 1 0 -5.6 0zM1119.7 476.9a2.8 2.8 0 1 0 5.6 0a2.8 2.8 0 1 0 -5.6 0zM993.8 485.7a2.8 2.8 0 1 0 5.6 0a2.8 2.8 0 1 0 -5.6 0zM998.4 485.7a2.8 2.8 0 1 0 5.6 0a2.8 2.8 0 1 0 -5.6 0zM1003.0 485.7a2.8 2.8 0 1 0 5.6 0a2.8 2.8 0 1 0 -5.6 0zM1008.0 485.7a2.8 2.8 0 1 0 5.6 0a2.8 2.8 0 1 0 -5.6 0zM967.7 494.7a2.8 2.8 0 1 0 5.6 0a2.8 2.8 0 1 0 -5.6 0zM1079.4 494.7a2.8 2.8 0 1 0 5.6 0a2.8 2.8 0 1 0 -5.6 0zM1097.7 494.7a2.8 2.8 0 1 0 5.6 0a2.8 2.8 0 1 0 -5.6 0zM1003.3 503.3a2.8 2.8 0 1 0 5.6 0a2.8 2.8 0 1 0 -5.6 0zM1043.9 503.3a2.8 2.8 0 1 0 5.6 0a2.8 2.8 0 1 0 -5.6 0zM1061.5 503.3a2.8 2.8 0 1 0 5.6 0a2.8 2.8 0 1 0 -5.6 0zM1003.3 512.5a2.8 2.8 0 1 0 5.6 0a2.8 2.8 0 1 0 -5.6 0zM1012.3 512.5a2.8 2.8 0 1 0 5.6 0a2.8 2.8 0 1 0 -5.6 0zM1021.3 539.2a2.8 2.8 0 1 0 5.6 0a2.8 2.8 0 1 0 -5.6 0zM962.8 548.0a2.8 2.8 0 1 0 5.6 0a2.8 2.8 0 1 0 -5.6 0zM990.0 556.9a2.8 2.8 0 1 0 5.6 0a2.8 2.8 0 1 0 -5.6 0zM1003.4 556.9a2.8 2.8 0 1 0 5.6 0a2.8 2.8 0 1 0 -5.6 0zM1012.1 592.6a2.8 2.8 0 1 0 5.6 0a2.8 2.8 0 1 0 -5.6 0z" fill="#6a88b8"/>
<line x1="1424" y1="197.5" x2="1424" y2="640" stroke="#262626" stroke-width="2"/>
<line x1="1410" y1="639" x2="1781" y2="639" stroke="#262626" stroke-width="2"/>
<line x1="1410" y1="198.5" x2="1424" y2="198.5" stroke="#262626" stroke-width="2"/>
<path d="M1370.40 189.80 L1372.70 189.50 L1372.70 205.00 L1370.40 205.00 Z M1370.60 189.70 L1368.20 192.70 L1368.20 194.10 L1370.40 191.80 Z" fill="#4a4a4a"/>
<text x="1375.09" y="205.0" font-size="23" font-weight="normal" fill="#4a4a4a" stroke="#4a4a4a" stroke-width="0.1" textLength="12.54" lengthAdjust="spacingAndGlyphs">2</text>
<text x="1386.21" y="205.0" font-size="23" font-weight="normal" fill="#4a4a4a" stroke="#4a4a4a" stroke-width="0.1" textLength="7.99" lengthAdjust="spacingAndGlyphs">.</text>
<text x="1393.09" y="205.0" font-size="23" font-weight="normal" fill="#4a4a4a" stroke="#4a4a4a" stroke-width="0.1" textLength="11.95" lengthAdjust="spacingAndGlyphs">0</text>
<line x1="1410" y1="272.8" x2="1424" y2="272.8" stroke="#262626" stroke-width="2"/>
<path d="M1370.40 264.10 L1372.70 263.80 L1372.70 279.30 L1370.40 279.30 Z M1370.60 264.00 L1368.20 267.00 L1368.20 268.40 L1370.40 266.10 Z" fill="#4a4a4a"/>
<text x="1375.38" y="279.3" font-size="23" font-weight="normal" fill="#4a4a4a" stroke="#4a4a4a" stroke-width="0.1" textLength="11.95" lengthAdjust="spacingAndGlyphs">0</text>
<text x="1386.21" y="279.3" font-size="23" font-weight="normal" fill="#4a4a4a" stroke="#4a4a4a" stroke-width="0.1" textLength="7.99" lengthAdjust="spacingAndGlyphs">.</text>
<text x="1393.09" y="279.3" font-size="23" font-weight="normal" fill="#4a4a4a" stroke="#4a4a4a" stroke-width="0.1" textLength="11.95" lengthAdjust="spacingAndGlyphs">0</text>
<line x1="1410" y1="345.1" x2="1424" y2="345.1" stroke="#262626" stroke-width="2"/>
<text x="1370.28" y="351.6" font-size="23" font-weight="normal" fill="#4a4a4a" stroke="#4a4a4a" stroke-width="0.1" textLength="13.05" lengthAdjust="spacingAndGlyphs">8</text>
<text x="1382.01" y="351.6" font-size="23" font-weight="normal" fill="#4a4a4a" stroke="#4a4a4a" stroke-width="0.1" textLength="8.57" lengthAdjust="spacingAndGlyphs">.</text>
<text x="1389.39" y="351.6" font-size="23" font-weight="normal" fill="#4a4a4a" stroke="#4a4a4a" stroke-width="0.1" textLength="12.81" lengthAdjust="spacingAndGlyphs">0</text>
<line x1="1410" y1="417.6" x2="1424" y2="417.6" stroke="#262626" stroke-width="2"/>
<text x="1370.09" y="424.1" font-size="23" font-weight="normal" fill="#4a4a4a" stroke="#4a4a4a" stroke-width="0.1" textLength="13.28" lengthAdjust="spacingAndGlyphs">6</text>
<text x="1382.01" y="424.1" font-size="23" font-weight="normal" fill="#4a4a4a" stroke="#4a4a4a" stroke-width="0.1" textLength="8.57" lengthAdjust="spacingAndGlyphs">.</text>
<text x="1389.39" y="424.1" font-size="23" font-weight="normal" fill="#4a4a4a" stroke="#4a4a4a" stroke-width="0.1" textLength="12.81" lengthAdjust="spacingAndGlyphs">0</text>
<line x1="1410" y1="489.5" x2="1424" y2="489.5" stroke="#262626" stroke-width="2"/>
<text x="1370.80" y="496.0" font-size="23" font-weight="normal" fill="#4a4a4a" stroke="#4a4a4a" stroke-width="0.1" textLength="12.16" lengthAdjust="spacingAndGlyphs">4</text>
<text x="1382.01" y="496.0" font-size="23" font-weight="normal" fill="#4a4a4a" stroke="#4a4a4a" stroke-width="0.1" textLength="8.57" lengthAdjust="spacingAndGlyphs">.</text>
<text x="1389.39" y="496.0" font-size="23" font-weight="normal" fill="#4a4a4a" stroke="#4a4a4a" stroke-width="0.1" textLength="12.81" lengthAdjust="spacingAndGlyphs">0</text>
<line x1="1410" y1="564.1" x2="1424" y2="564.1" stroke="#262626" stroke-width="2"/>
<text x="1370.08" y="570.6" font-size="23" font-weight="normal" fill="#4a4a4a" stroke="#4a4a4a" stroke-width="0.1" textLength="13.45" lengthAdjust="spacingAndGlyphs">2</text>
<text x="1382.01" y="570.6" font-size="23" font-weight="normal" fill="#4a4a4a" stroke="#4a4a4a" stroke-width="0.1" textLength="8.57" lengthAdjust="spacingAndGlyphs">.</text>
<text x="1389.39" y="570.6" font-size="23" font-weight="normal" fill="#4a4a4a" stroke="#4a4a4a" stroke-width="0.1" textLength="12.81" lengthAdjust="spacingAndGlyphs">0</text>
<text x="1370.40" y="645.0" font-size="23" font-weight="normal" fill="#4a4a4a" stroke="#4a4a4a" stroke-width="0.1" textLength="12.81" lengthAdjust="spacingAndGlyphs">0</text>
<text x="1382.01" y="645.0" font-size="23" font-weight="normal" fill="#4a4a4a" stroke="#4a4a4a" stroke-width="0.1" textLength="8.57" lengthAdjust="spacingAndGlyphs">.</text>
<text x="1389.39" y="645.0" font-size="23" font-weight="normal" fill="#4a4a4a" stroke="#4a4a4a" stroke-width="0.1" textLength="12.81" lengthAdjust="spacingAndGlyphs">0</text>
<rect x="1446" y="525" width="50.700000000000045" height="115" fill="#a9cdd4"/>
<rect x="1577.7" y="469.5" width="53.299999999999955" height="170.5" fill="#a9cdd4"/>
<rect x="1709.5" y="552.3" width="50.5" height="87.70000000000005" fill="#a9cdd4"/>
<line x1="1472" y1="402.3" x2="1472" y2="585.5" stroke="#262626" stroke-width="2"/>
<line x1="1463.5" y1="402.3" x2="1480.5" y2="402.3" stroke="#262626" stroke-width="2"/>
<line x1="1463.5" y1="585.5" x2="1480.5" y2="585.5" stroke="#262626" stroke-width="2"/>
<line x1="1605" y1="260" x2="1605" y2="564.4" stroke="#262626" stroke-width="2"/>
<line x1="1596.5" y1="260" x2="1613.5" y2="260" stroke="#262626" stroke-width="2"/>
<line x1="1596.5" y1="564.4" x2="1613.5" y2="564.4" stroke="#262626" stroke-width="2"/>
<line x1="1736" y1="444.8" x2="1736" y2="564.4" stroke="#262626" stroke-width="2"/>
<line x1="1727.5" y1="444.8" x2="1744.5" y2="444.8" stroke="#262626" stroke-width="2"/>
<line x1="1727.5" y1="564.4" x2="1744.5" y2="564.4" stroke="#262626" stroke-width="2"/>
<text x="1441.15" y="391.7" font-size="21" font-weight="normal" fill="#4a4a4a" font-style="italic" stroke="#4a4a4a" stroke-width="0.1" textLength="11.97" lengthAdjust="spacingAndGlyphs">P</text>
<text x="1455.88" y="391.7" font-size="21" font-weight="normal" fill="#4a4a4a" stroke="#4a4a4a" stroke-width="0.1" textLength="7.33" lengthAdjust="spacingAndGlyphs">&lt;</text>
<text x="1465.51" y="391.7" font-size="21.5" font-weight="normal" fill="#4a4a4a" stroke="#4a4a4a" stroke-width="0.1" textLength="11.19" lengthAdjust="spacingAndGlyphs">0</text>
<text x="1475.65" y="391.7" font-size="21.5" font-weight="normal" fill="#4a4a4a" stroke="#4a4a4a" stroke-width="0.1" textLength="7.48" lengthAdjust="spacingAndGlyphs">.</text>
<text x="1482.09" y="391.7" font-size="21.5" font-weight="normal" fill="#4a4a4a" stroke="#4a4a4a" stroke-width="0.1" textLength="11.19" lengthAdjust="spacingAndGlyphs">0</text>
<path d="M1497.70 377.00 L1500.00 376.70 L1500.00 391.70 L1497.70 391.70 Z M1497.90 376.90 L1495.79 379.90 L1495.79 381.30 L1497.70 379.00 Z" fill="#4a4a4a"/>
<text x="1567.75" y="249.3" font-size="21" font-weight="normal" fill="#4a4a4a" font-style="italic" stroke="#4a4a4a" stroke-width="0.1" textLength="11.97" lengthAdjust="spacingAndGlyphs">P</text>
<text x="1582.48" y="249.3" font-size="21" font-weight="normal" fill="#4a4a4a" stroke="#4a4a4a" stroke-width="0.1" textLength="7.33" lengthAdjust="spacingAndGlyphs">&lt;</text>
<text x="1592.11" y="249.3" font-size="21.5" font-weight="normal" fill="#4a4a4a" stroke="#4a4a4a" stroke-width="0.1" textLength="11.30" lengthAdjust="spacingAndGlyphs">0</text>
<text x="1602.35" y="249.3" font-size="21.5" font-weight="normal" fill="#4a4a4a" stroke="#4a4a4a" stroke-width="0.1" textLength="7.56" lengthAdjust="spacingAndGlyphs">.</text>
<text x="1608.85" y="249.3" font-size="21.5" font-weight="normal" fill="#4a4a4a" stroke="#4a4a4a" stroke-width="0.1" textLength="11.30" lengthAdjust="spacingAndGlyphs">0</text>
<text x="1621.90" y="249.3" font-size="21.5" font-weight="normal" fill="#4a4a4a" stroke="#4a4a4a" stroke-width="0.1" textLength="11.30" lengthAdjust="spacingAndGlyphs">0</text>
<path d="M1637.70 234.60 L1640.00 234.30 L1640.00 249.30 L1637.70 249.30 Z M1637.90 234.50 L1635.74 237.50 L1635.74 238.90 L1637.70 236.60 Z" fill="#4a4a4a"/>
<text x="1701.15" y="431.7" font-size="21" font-weight="normal" fill="#4a4a4a" font-style="italic" stroke="#4a4a4a" stroke-width="0.1" textLength="11.97" lengthAdjust="spacingAndGlyphs">P</text>
<text x="1715.88" y="431.7" font-size="21" font-weight="normal" fill="#4a4a4a" stroke="#4a4a4a" stroke-width="0.1" textLength="7.33" lengthAdjust="spacingAndGlyphs">&lt;</text>
<text x="1725.52" y="431.7" font-size="21.5" font-weight="normal" fill="#4a4a4a" stroke="#4a4a4a" stroke-width="0.1" textLength="11.07" lengthAdjust="spacingAndGlyphs">0</text>
<text x="1735.56" y="431.7" font-size="21.5" font-weight="normal" fill="#4a4a4a" stroke="#4a4a4a" stroke-width="0.1" textLength="7.40" lengthAdjust="spacingAndGlyphs">.</text>
<text x="1741.93" y="431.7" font-size="21.5" font-weight="normal" fill="#4a4a4a" stroke="#4a4a4a" stroke-width="0.1" textLength="11.07" lengthAdjust="spacingAndGlyphs">0</text>
<text x="1754.68" y="431.7" font-size="21.5" font-weight="normal" fill="#4a4a4a" stroke="#4a4a4a" stroke-width="0.1" textLength="11.16" lengthAdjust="spacingAndGlyphs">5</text>
<text x="1448.98" y="620" font-size="20" font-weight="bold" fill="#106575" textLength="44.35" lengthAdjust="spacingAndGlyphs">3.06</text>
<text x="1582.45" y="620" font-size="20" font-weight="bold" fill="#106575" textLength="44.76" lengthAdjust="spacingAndGlyphs">4.58</text>
<text x="1718.21" y="620" font-size="20" font-weight="bold" fill="#106575" textLength="31.61" lengthAdjust="spacingAndGlyphs">2.3</text>
<text transform="scale(0.900728826338276,1)" x="1607.37" y="667.2" font-size="23" font-weight="normal" fill="#4a4a4a" stroke="#4a4a4a" stroke-width="0.1" textLength="44.73" lengthAdjust="spacing">FEV</text>
<rect x="1490.2" y="663" width="2.5" height="11" fill="#4a4a4a"/>
<text x="1442.69" y="693" font-size="21" font-weight="normal" fill="#4a4a4a" stroke="#4a4a4a" stroke-width="0.1" textLength="9.62" lengthAdjust="spacingAndGlyphs">&lt;</text>
<text transform="scale(0.9815816501198189,1)" x="1481.71" y="694.5" font-size="23" font-weight="normal" fill="#4a4a4a" stroke="#4a4a4a" stroke-width="0.1" textLength="46.03" lengthAdjust="spacing">80%</text>
<text x="1586.92" y="667.1" font-size="23.63" font-weight="normal" fill="#4a4a4a" stroke="#4a4a4a" stroke-width="0.1" textLength="15.26" lengthAdjust="spacingAndGlyphs">2</text>
<text x="1601.95" y="666.92" font-size="24.12" font-weight="normal" fill="#4a4a4a" stroke="#4a4a4a" stroke-width="0.1" textLength="14.91" lengthAdjust="spacingAndGlyphs">+</text>
<text transform="scale(1.0815233622267497,1)" x="1408.42" y="694.6" font-size="23" font-weight="normal" fill="#4a4a4a" stroke="#4a4a4a" stroke-width="0.1" textLength="145.86" lengthAdjust="spacing">exacerbations</text>
<text transform="scale(1.0897973919267963,1)" x="1426.67" y="720.2" font-size="23" font-weight="normal" fill="#4a4a4a" stroke="#4a4a4a" stroke-width="0.1" textLength="33.89" lengthAdjust="spacing">per</text>
<text transform="scale(1.0649292996087525,1)" x="1503.42" y="720.2" font-size="23" font-weight="normal" fill="#4a4a4a" stroke="#4a4a4a" stroke-width="0.1" textLength="45.42" lengthAdjust="spacing">year</text>
<text transform="scale(1.0020082337584095,1)" x="1700.49" y="667.2" font-size="23" font-weight="normal" fill="#4a4a4a" stroke="#4a4a4a" stroke-width="0.1" textLength="61.37" lengthAdjust="spacing">FeNO</text>
<text x="1691.85" y="692.7" font-size="18" font-weight="normal" fill="#4a4a4a" stroke="#4a4a4a" stroke-width="0.1" textLength="9.49" lengthAdjust="spacingAndGlyphs">≥</text>
<text transform="scale(1.0627285782671119,1)" x="1601.13" y="694.5" font-size="23" font-weight="normal" fill="#4a4a4a" stroke="#4a4a4a" stroke-width="0.1" textLength="25.93" lengthAdjust="spacing">25</text>
<text transform="scale(1.1797844435081615,1)" x="1469.21" y="694.5" font-size="23" font-weight="normal" fill="#4a4a4a" stroke="#4a4a4a" stroke-width="0.1" textLength="39.74" lengthAdjust="spacing">ppb</text>
<text transform="translate(1338.5,483) rotate(-90) scale(1.0132441823118923,1)" x="-1.37" y="0" font-size="29" font-weight="normal" fill="#4a4a4a" stroke="#4a4a4a" stroke-width="0.1" textLength="69.53" lengthAdjust="spacing">Odds</text>
<text transform="translate(1338.5,404.3) rotate(-90) scale(1.2932878696218082,1)" x="-1.93" y="0" font-size="29" font-weight="normal" fill="#4a4a4a" stroke="#4a4a4a" stroke-width="0.1" textLength="59.43" lengthAdjust="spacing">ratio</text>
<line x1="1844.5" y1="477" x2="1844.5" y2="574" stroke="#ededf0" stroke-width="1.5"/>
</svg></body></html>
